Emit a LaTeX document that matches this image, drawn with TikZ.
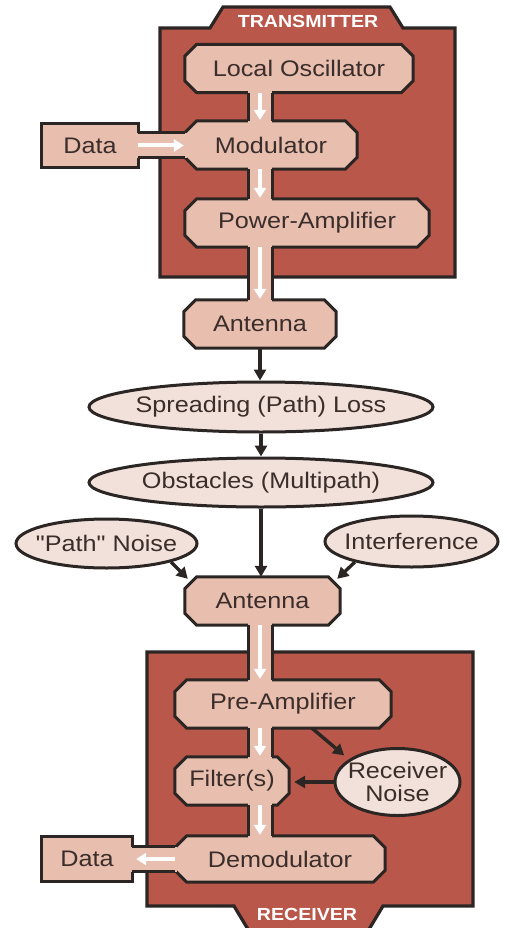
\documentclass[tikz,border=0pt]{standalone}
\usepackage{fontspec}
\newfontfamily\diagfont{Liberation Sans}[FakeStretch=1.12]
\usetikzlibrary{shapes.geometric,arrows.meta,calc}

\definecolor{boxred}{HTML}{B9584A}
\definecolor{blockfill}{HTML}{E8BEAF}
\definecolor{ovalfill}{HTML}{F2E1DB}
\definecolor{edgegray}{HTML}{2B2523}
\definecolor{inkbrown}{HTML}{3A2D2A}

\pgfdeclarelayer{bg}
\pgfsetlayers{bg,main}

\tikzset{
  bigbox/.style={fill=boxred, draw=edgegray, line width=3.2pt},
  block/.style={rectangle, text=inkbrown, inner sep=0pt, minimum height=48pt,
    font=\diagfont\fontsize{22.5}{23}\selectfont},
  blockedge/.style={fill=blockfill, draw=edgegray, line width=3pt},
  oval/.style={ellipse, draw=edgegray, line width=3pt, fill=ovalfill,
    text=inkbrown, inner xsep=-15pt, inner ysep=0pt,
    font=\diagfont\fontsize{22.5}{23}\selectfont},
  neckline/.style={draw=edgegray, line width=3pt},
  warrow/.style={white, line width=4pt, -{Triangle[width=12pt,length=10pt]}, shorten >=1pt},
  karrow/.style={edgegray, line width=3.4pt, -{Triangle[width=12pt,length=11pt]}},
  tag/.style={white, font=\diagfont\bfseries\fontsize{17.5}{19}\selectfont}
}

\begin{document}
\begin{tikzpicture}[x=1pt,y=-1pt]
\useasboundingbox (0,0) rectangle (506,928);

%%%%%%%%%%%%%%%%%%%Transmitter Block Labels%%%%%%%%%%%%%%%%%%
\node[block, minimum width=228pt] (lo) at (299,68.5) {Local Oscillator};
\node[block, minimum width=172pt] (mod) at (271,145) {Modulator};
\node[block, minimum width=244pt] (pa) at (307,223) {Power-Amplifier};
\node[block, minimum width=152pt] (tant) at (260,324) {Antenna};
\node[block, minimum width=96pt, minimum height=44pt] (txdata) at (90,145.5) {Data};

%%%%%%%%%%%%%%%%%%%Receiver Block Labels%%%%%%%%%%%%%%%%%%
\node[block, minimum width=155pt] (rant) at (262.5,601) {Antenna};
\node[block, minimum width=216pt] (pre) at (283,704) {Pre-Amplifier};
\node[block, minimum width=114pt] (filt) at (232,781) {Filter(s)};
\node[block, minimum width=210pt, minimum height=46pt] (demod) at (280,859) {Demodulator};
\node[block, minimum width=90pt, minimum height=44pt] (rxdata) at (87,859) {Data};

\begin{pgfonlayer}{bg}
%%%%%%%%%%%%%%%%%%Draw Transmitter and Receiver Boxes%%%%%%%%%%%%%%%
\draw[bigbox] (160,28) -- (210,28) -- (223,7) -- (390,7) -- (403,28)
  -- (455,28) -- (455,277) -- (160,277) -- cycle;
\draw[bigbox] (147,652) -- (473,652) -- (473,906) -- (383,906) -- (368,931)
  -- (249,931) -- (234,906) -- (147,906) -- cycle;

%%%%%%%%%%%%%%%%%%Draw Chamfered Block Outlines%%%%%%%%%%%%%%%
\foreach \n in {lo,mod,pa,tant,rant,pre,filt,demod}{
  \draw[blockedge] ($(\n.north west)+(12,0)$) -- ($(\n.north east)+(-12,0)$)
    -- ($(\n.north east)+(0,12)$) -- ($(\n.south east)+(0,-12)$)
    -- ($(\n.south east)+(-12,0)$) -- ($(\n.south west)+(12,0)$)
    -- ($(\n.south west)+(0,-12)$) -- ($(\n.north west)+(0,12)$) -- cycle;
}
\draw[blockedge] (txdata.north west) rectangle (txdata.south east);
\draw[blockedge] (rxdata.north west) rectangle (rxdata.south east);

%%%%%%%%%%%%%%Draw Necks With White Arrows%%%%%%%%%%%%%%
\coordinate (nl) at (248,0);
\coordinate (nr) at (272,0);
\coordinate (nc) at (260,0);
\foreach \a/\b in {lo/mod, mod/pa, pa/tant, rant/pre, pre/filt, filt/demod}{
  \fill[blockfill] ($(\a.south -| nl)+(0,-2)$) rectangle ($(\b.north -| nr)+(0,2)$);
  \draw[neckline] (\a.south -| nl) -- (\b.north -| nl);
  \draw[neckline] (\a.south -| nr) -- (\b.north -| nr);
  \draw[warrow] (\a.south -| nc) -- (\b.north -| nc);
}

\fill[blockfill] ($(txdata.east)+(-2,-12.5)$) rectangle ($(txdata.east -| mod.west)+(2,12.5)$);
\draw[neckline] ($(txdata.east)+(0,-12.5)$) -- ($(txdata.east -| mod.west)+(0,-12.5)$);
\draw[neckline] ($(txdata.east)+(0,12.5)$) -- ($(txdata.east -| mod.west)+(0,12.5)$);
\draw[warrow] (txdata.east) -- (txdata.east -| mod.west);

\fill[blockfill] ($(rxdata.east)+(-2,-12.5)$) rectangle ($(rxdata.east -| demod.west)+(2,12.5)$);
\draw[neckline] ($(rxdata.east)+(0,-12.5)$) -- ($(rxdata.east -| demod.west)+(0,-12.5)$);
\draw[neckline] ($(rxdata.east)+(0,12.5)$) -- ($(rxdata.east -| demod.west)+(0,12.5)$);
\draw[warrow, shorten >=4pt] (demod.west) -- (demod.west -| rxdata.east);
\end{pgfonlayer}

\node[tag, anchor=base] (txtag) at (308,28) {TRANSMITTER};
\node[tag, anchor=base] (rxtag) at (307,920) {RECEIVER};

%%%%%%%%%%%%%%%%%%%Draw The Channel Ovals%%%%%%%%%%%%%%%%%%
\node[oval, minimum width=344pt, minimum height=50pt] (spread) at (261,407) {Spreading (Path) Loss};
\node[oval, minimum width=344pt, minimum height=49pt] (obs) at (261,482.5) {Obstacles (Multipath)};
\node[oval, minimum width=181pt, minimum height=49pt] (pnoise) at (106.5,543.5) {"Path" Noise};
\node[oval, minimum width=173pt, minimum height=51pt] (interf) at (411.5,541.5) {Interference};
\node[oval, align=center, minimum width=125pt, minimum height=67pt] (rnoise) at (397.5,782) {Receiver\\Noise};

%%%%%%%%%%%%%%Draw Black Arrows%%%%%%%%%%
\draw[karrow] (tant.south) -- (tant.south |- spread.north);
\draw[karrow] (spread.south) -- (obs.north);
\draw[karrow] (obs.south) -- (obs.south |- rant.north);
\draw[karrow] (pnoise.-16) -- ($(rant.north -| rant.west)+(3,2)$);
\draw[karrow] (interf.200) -- ($(rant.north -| rant.east)+(-3,2)$);
\draw[karrow, shorten >=6pt] ($(pre.south)+(29,0)$) -- (rnoise.155);
\draw[karrow, shorten >=5pt] (rnoise.west) -- (rnoise.west -| filt.east);

\end{tikzpicture}
\end{document}
